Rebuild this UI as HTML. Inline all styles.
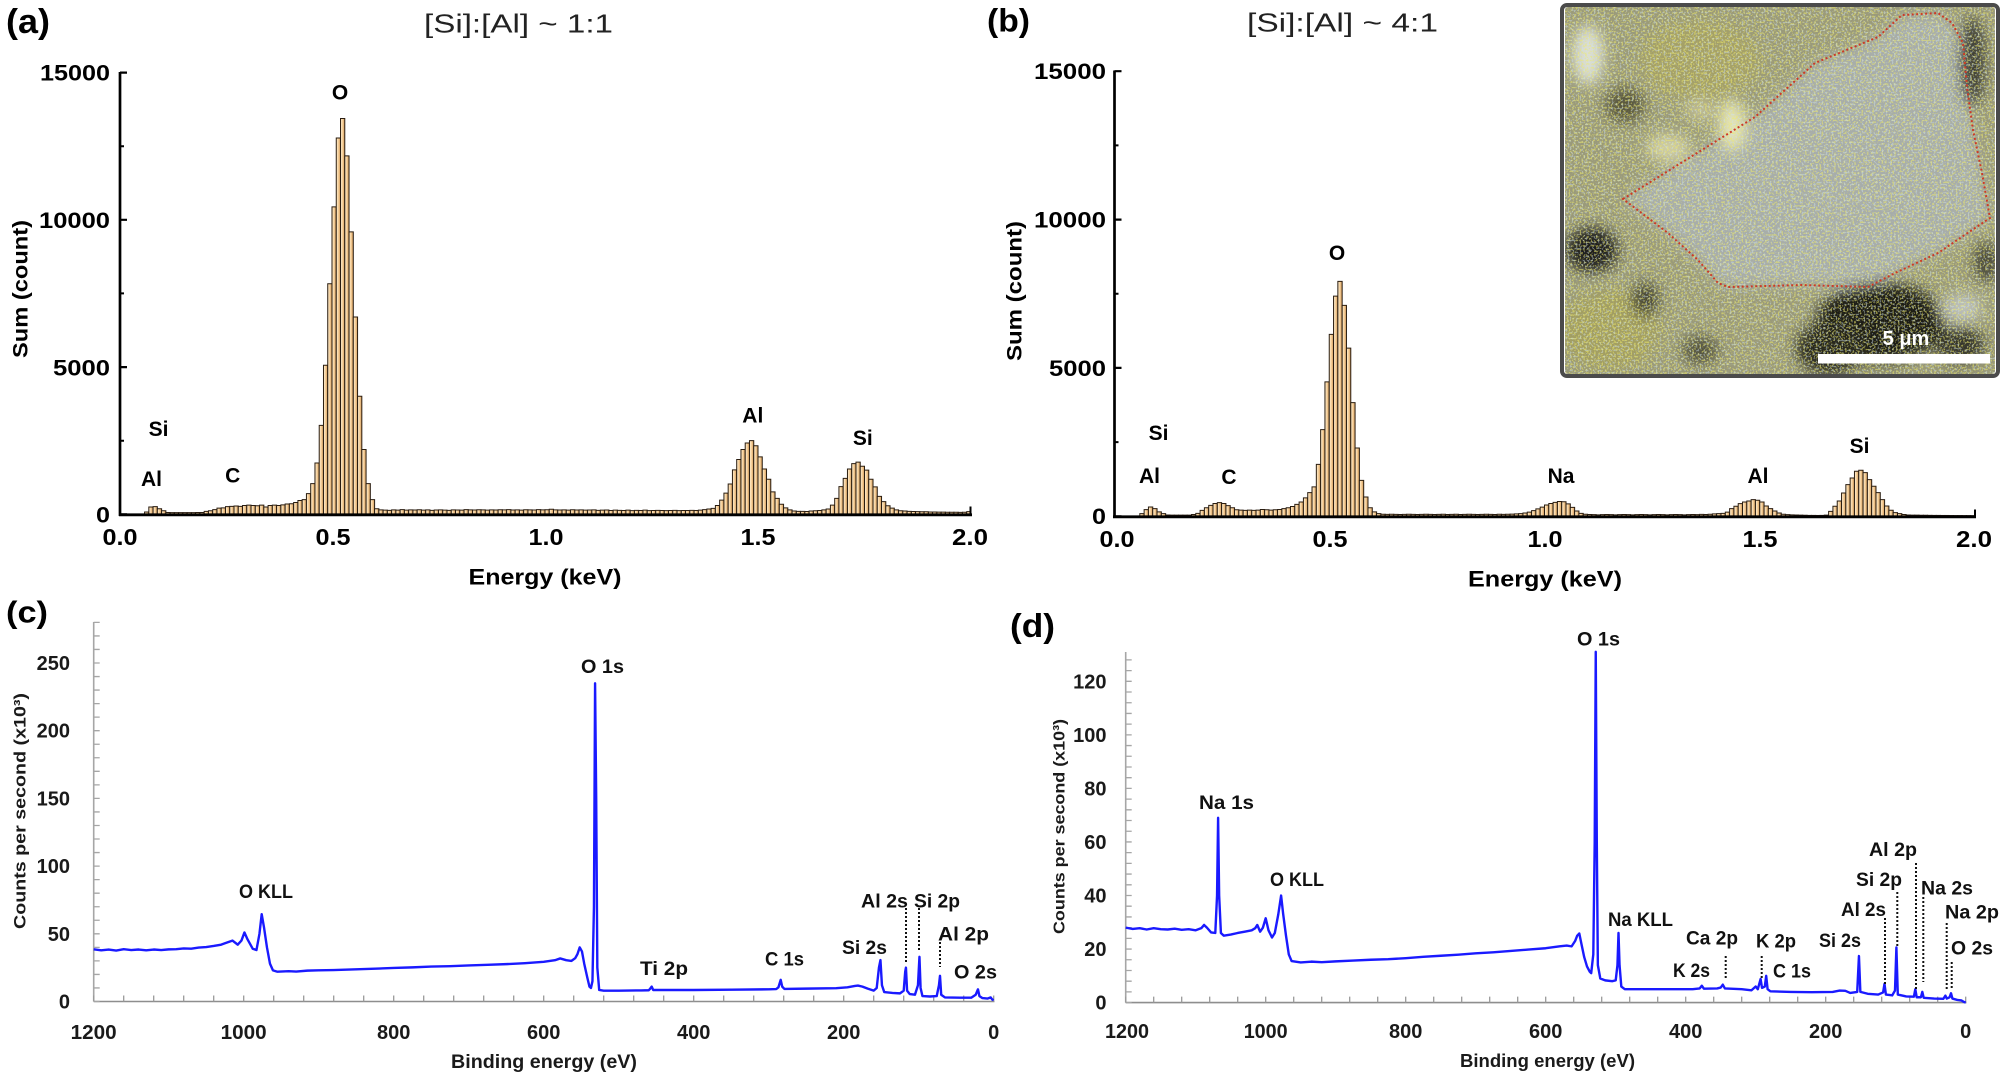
<!DOCTYPE html>
<html><head><meta charset="utf-8"><style>
html,body{margin:0;padding:0;background:#fff;}
svg{display:block;}
.bars rect{vector-effect:non-scaling-stroke;}
</style></head><body>
<svg width="2008" height="1084" viewBox="0 0 2008 1084" xmlns="http://www.w3.org/2000/svg" font-family="'Liberation Sans', Arial, sans-serif">
<defs>
<linearGradient id="bg" x1="0" x2="1" y1="0" y2="0"><stop offset="0" stop-color="#fff2d8"/><stop offset="0.5" stop-color="#f6cf98"/><stop offset="1" stop-color="#cf9758"/></linearGradient>
<clipPath id="ic"><rect x="1565" y="7" width="430" height="367" rx="3"/></clipPath>
<filter id="bl" x="-20%" y="-20%" width="140%" height="140%"><feGaussianBlur stdDeviation="7"/></filter>
<filter id="ny" x="0" y="0" width="1" height="1"><feTurbulence type="fractalNoise" baseFrequency="0.55" numOctaves="1" seed="7"/><feColorMatrix type="matrix" values="0 0 0 0 0.86 0 0 0 0 0.83 0 0 0 0 0.15 0 0 0 9 -4.7"/></filter>
<filter id="nb" x="0" y="0" width="1" height="1"><feTurbulence type="fractalNoise" baseFrequency="0.5" numOctaves="1" seed="23"/><feColorMatrix type="matrix" values="0 0 0 0 0.62 0 0 0 0 0.76 0 0 0 0 0.82 0 0 0 9 -4.9"/></filter>
</defs>

<!-- ===== Panel (a) ===== -->
<text x="6" y="33" font-size="34" font-weight="bold" textLength="44" lengthAdjust="spacingAndGlyphs">(a)</text>
<text x="424" y="32.5" font-size="26" fill="#222" textLength="189" lengthAdjust="spacingAndGlyphs">[Si]:[Al] ~ 1:1</text>
<g class="bars" transform="translate(119,514.3) scale(4.26,-0.029447)" fill="url(#bg)" stroke="#2a1d10" stroke-width="1">
<rect x="6" width="1" height="80"/><rect x="7" width="1" height="250"/><rect x="8" width="1" height="260"/><rect x="9" width="1" height="190"/><rect x="10" width="1" height="120"/><rect x="11" width="1" height="60"/><rect x="12" width="1" height="55"/><rect x="13" width="1" height="55"/><rect x="14" width="1" height="55"/><rect x="15" width="1" height="55"/><rect x="16" width="1" height="55"/><rect x="17" width="1" height="55"/><rect x="18" width="1" height="60"/><rect x="19" width="1" height="60"/><rect x="20" width="1" height="100"/><rect x="21" width="1" height="120"/><rect x="22" width="1" height="160"/><rect x="23" width="1" height="210"/><rect x="24" width="1" height="220"/><rect x="25" width="1" height="260"/><rect x="26" width="1" height="270"/><rect x="27" width="1" height="280"/><rect x="28" width="1" height="270"/><rect x="29" width="1" height="300"/><rect x="30" width="1" height="310"/><rect x="31" width="1" height="300"/><rect x="32" width="1" height="290"/><rect x="33" width="1" height="310"/><rect x="34" width="1" height="250"/><rect x="35" width="1" height="300"/><rect x="36" width="1" height="310"/><rect x="37" width="1" height="300"/><rect x="38" width="1" height="320"/><rect x="39" width="1" height="350"/><rect x="40" width="1" height="360"/><rect x="41" width="1" height="400"/><rect x="42" width="1" height="470"/><rect x="43" width="1" height="500"/><rect x="44" width="1" height="700"/><rect x="45" width="1" height="1040"/><rect x="46" width="1" height="1740"/><rect x="47" width="1" height="3020"/><rect x="48" width="1" height="5060"/><rect x="49" width="1" height="7830"/><rect x="50" width="1" height="10440"/><rect x="51" width="1" height="12780"/><rect x="52" width="1" height="13440"/><rect x="53" width="1" height="12170"/><rect x="54" width="1" height="9590"/><rect x="55" width="1" height="6700"/><rect x="56" width="1" height="4010"/><rect x="57" width="1" height="2200"/><rect x="58" width="1" height="1040"/><rect x="59" width="1" height="500"/><rect x="60" width="1" height="190"/>
<rect x="61" width="1" height="150"/><rect x="62" width="1" height="140"/><rect x="63" width="1" height="135"/><rect x="64" width="1" height="150"/><rect x="65" width="1" height="140"/><rect x="66" width="1" height="160"/><rect x="67" width="1" height="140"/><rect x="68" width="1" height="150"/><rect x="69" width="1" height="145"/><rect x="70" width="1" height="155"/><rect x="71" width="1" height="140"/><rect x="72" width="1" height="150"/><rect x="73" width="1" height="135"/><rect x="74" width="1" height="145"/><rect x="75" width="1" height="150"/><rect x="76" width="1" height="140"/><rect x="77" width="1" height="135"/><rect x="78" width="1" height="150"/><rect x="79" width="1" height="145"/><rect x="80" width="1" height="140"/><rect x="81" width="1" height="160"/><rect x="82" width="1" height="150"/><rect x="83" width="1" height="145"/><rect x="84" width="1" height="155"/><rect x="85" width="1" height="150"/><rect x="86" width="1" height="140"/><rect x="87" width="1" height="150"/><rect x="88" width="1" height="145"/><rect x="89" width="1" height="155"/><rect x="90" width="1" height="150"/><rect x="91" width="1" height="160"/><rect x="92" width="1" height="145"/><rect x="93" width="1" height="150"/><rect x="94" width="1" height="140"/><rect x="95" width="1" height="155"/><rect x="96" width="1" height="150"/><rect x="97" width="1" height="145"/><rect x="98" width="1" height="160"/><rect x="99" width="1" height="150"/><rect x="100" width="1" height="155"/><rect x="101" width="1" height="170"/><rect x="102" width="1" height="150"/><rect x="103" width="1" height="145"/><rect x="104" width="1" height="150"/><rect x="105" width="1" height="140"/><rect x="106" width="1" height="155"/><rect x="107" width="1" height="145"/><rect x="108" width="1" height="150"/><rect x="109" width="1" height="140"/><rect x="110" width="1" height="145"/><rect x="111" width="1" height="150"/><rect x="112" width="1" height="135"/><rect x="113" width="1" height="140"/><rect x="114" width="1" height="145"/><rect x="115" width="1" height="130"/><rect x="116" width="1" height="140"/><rect x="117" width="1" height="135"/><rect x="118" width="1" height="130"/><rect x="119" width="1" height="140"/><rect x="120" width="1" height="125"/><rect x="121" width="1" height="135"/><rect x="122" width="1" height="130"/><rect x="123" width="1" height="140"/><rect x="124" width="1" height="125"/><rect x="125" width="1" height="130"/><rect x="126" width="1" height="135"/><rect x="127" width="1" height="130"/><rect x="128" width="1" height="125"/><rect x="129" width="1" height="130"/><rect x="130" width="1" height="135"/><rect x="131" width="1" height="125"/><rect x="132" width="1" height="130"/><rect x="133" width="1" height="130"/><rect x="134" width="1" height="135"/><rect x="135" width="1" height="130"/><rect x="136" width="1" height="140"/><rect x="137" width="1" height="160"/><rect x="138" width="1" height="180"/><rect x="139" width="1" height="200"/>
<rect x="140" width="1" height="300"/><rect x="141" width="1" height="480"/><rect x="142" width="1" height="720"/><rect x="143" width="1" height="1030"/><rect x="144" width="1" height="1510"/><rect x="145" width="1" height="1860"/><rect x="146" width="1" height="2200"/><rect x="147" width="1" height="2420"/><rect x="148" width="1" height="2500"/><rect x="149" width="1" height="2330"/><rect x="150" width="1" height="1950"/><rect x="151" width="1" height="1540"/><rect x="152" width="1" height="1190"/><rect x="153" width="1" height="760"/><rect x="154" width="1" height="540"/><rect x="155" width="1" height="340"/><rect x="156" width="1" height="220"/><rect x="157" width="1" height="150"/><rect x="158" width="1" height="110"/><rect x="159" width="1" height="100"/><rect x="160" width="1" height="100"/><rect x="161" width="1" height="95"/><rect x="162" width="1" height="110"/><rect x="163" width="1" height="120"/><rect x="164" width="1" height="130"/><rect x="165" width="1" height="150"/><rect x="166" width="1" height="180"/><rect x="167" width="1" height="310"/><rect x="168" width="1" height="540"/><rect x="169" width="1" height="940"/><rect x="170" width="1" height="1220"/><rect x="171" width="1" height="1540"/><rect x="172" width="1" height="1720"/><rect x="173" width="1" height="1770"/><rect x="174" width="1" height="1630"/><rect x="175" width="1" height="1500"/><rect x="176" width="1" height="1190"/><rect x="177" width="1" height="930"/><rect x="178" width="1" height="610"/><rect x="179" width="1" height="430"/><rect x="180" width="1" height="290"/><rect x="181" width="1" height="210"/><rect x="182" width="1" height="150"/><rect x="183" width="1" height="120"/><rect x="184" width="1" height="110"/><rect x="185" width="1" height="100"/><rect x="186" width="1" height="95"/><rect x="187" width="1" height="90"/><rect x="188" width="1" height="85"/><rect x="189" width="1" height="85"/><rect x="190" width="1" height="80"/><rect x="191" width="1" height="80"/><rect x="192" width="1" height="75"/><rect x="193" width="1" height="75"/><rect x="194" width="1" height="70"/><rect x="195" width="1" height="70"/><rect x="196" width="1" height="70"/><rect x="197" width="1" height="65"/><rect x="198" width="1" height="70"/><rect x="199" width="1" height="90"/>
</g>
<g stroke="#000" fill="none">
<line x1="120" y1="72" x2="120" y2="516" stroke-width="2.7"/>
<line x1="119" y1="514.8" x2="972" y2="514.8" stroke-width="2.8"/>
<line x1="970.5" y1="506.5" x2="970.5" y2="515" stroke-width="2"/>
<path d="M120,72.6h7M120,219.8h7M120,367.1h7M120,514.3h7" stroke-width="2.2"/>
<path d="M120,146.2h4M120,293.4h4M120,440.7h4" stroke-width="2"/>
</g>
<g font-size="22" font-weight="bold" text-anchor="end">
<text x="110" y="80.5" textLength="70" lengthAdjust="spacingAndGlyphs">15000</text>
<text x="110" y="228" textLength="71" lengthAdjust="spacingAndGlyphs">10000</text>
<text x="110" y="375.5" textLength="57" lengthAdjust="spacingAndGlyphs">5000</text>
<text x="110" y="522.5" textLength="14" lengthAdjust="spacingAndGlyphs">0</text>
</g>
<g font-size="23" font-weight="bold" text-anchor="middle">
<text x="120" y="545" textLength="35" lengthAdjust="spacingAndGlyphs">0.0</text>
<text x="333" y="545" textLength="35" lengthAdjust="spacingAndGlyphs">0.5</text>
<text x="546" y="545" textLength="35" lengthAdjust="spacingAndGlyphs">1.0</text>
<text x="758" y="545" textLength="35" lengthAdjust="spacingAndGlyphs">1.5</text>
<text x="970" y="545" textLength="36" lengthAdjust="spacingAndGlyphs">2.0</text>
</g>
<text x="545" y="584.5" font-size="22" font-weight="bold" text-anchor="middle" textLength="153" lengthAdjust="spacingAndGlyphs">Energy (keV)</text>
<text transform="translate(27.3,289) rotate(-90)" font-size="21" font-weight="bold" text-anchor="middle" textLength="138" lengthAdjust="spacingAndGlyphs">Sum (count)</text>
<g font-size="21" font-weight="bold" text-anchor="middle">
<text x="340" y="99.3">O</text>
<text x="158.5" y="436">Si</text>
<text x="151.5" y="486">Al</text>
<text x="232.7" y="482.7">C</text>
<text x="752.8" y="422.7">Al</text>
<text x="862.8" y="445">Si</text>
</g>

<!-- ===== Panel (b) ===== -->
<text x="987" y="31.5" font-size="32" font-weight="bold" textLength="43" lengthAdjust="spacingAndGlyphs">(b)</text>
<text x="1247" y="31.5" font-size="26" fill="#222" textLength="191" lengthAdjust="spacingAndGlyphs">[Si]:[Al] ~ 4:1</text>
<g class="bars" transform="translate(1114,516.3) scale(4.305,-0.02967)" fill="url(#bg)" stroke="#2a1d10" stroke-width="1">
<rect x="6" width="1" height="90"/><rect x="7" width="1" height="225"/><rect x="8" width="1" height="315"/><rect x="9" width="1" height="260"/><rect x="10" width="1" height="150"/><rect x="11" width="1" height="90"/><rect x="12" width="1" height="45"/><rect x="13" width="1" height="40"/><rect x="14" width="1" height="40"/><rect x="15" width="1" height="40"/><rect x="16" width="1" height="40"/><rect x="17" width="1" height="40"/><rect x="18" width="1" height="60"/><rect x="19" width="1" height="100"/><rect x="20" width="1" height="200"/><rect x="21" width="1" height="290"/><rect x="22" width="1" height="370"/><rect x="23" width="1" height="430"/><rect x="24" width="1" height="460"/><rect x="25" width="1" height="430"/><rect x="26" width="1" height="360"/><rect x="27" width="1" height="290"/><rect x="28" width="1" height="220"/><rect x="29" width="1" height="210"/><rect x="30" width="1" height="200"/><rect x="31" width="1" height="210"/><rect x="32" width="1" height="200"/><rect x="33" width="1" height="210"/><rect x="34" width="1" height="230"/><rect x="35" width="1" height="220"/><rect x="36" width="1" height="210"/><rect x="37" width="1" height="220"/><rect x="38" width="1" height="230"/><rect x="39" width="1" height="260"/><rect x="40" width="1" height="290"/><rect x="41" width="1" height="330"/><rect x="42" width="1" height="400"/><rect x="43" width="1" height="480"/><rect x="44" width="1" height="620"/><rect x="45" width="1" height="800"/><rect x="46" width="1" height="990"/><rect x="47" width="1" height="1750"/><rect x="48" width="1" height="2920"/><rect x="49" width="1" height="4530"/><rect x="50" width="1" height="6130"/><rect x="51" width="1" height="7420"/><rect x="52" width="1" height="7920"/><rect x="53" width="1" height="7110"/><rect x="54" width="1" height="5670"/><rect x="55" width="1" height="3830"/><rect x="56" width="1" height="2300"/><rect x="57" width="1" height="1210"/><rect x="58" width="1" height="650"/><rect x="59" width="1" height="290"/><rect x="60" width="1" height="150"/><rect x="61" width="1" height="90"/>
<rect x="62" width="1" height="70"/><rect x="63" width="1" height="65"/><rect x="64" width="1" height="70"/><rect x="65" width="1" height="65"/><rect x="66" width="1" height="60"/><rect x="67" width="1" height="65"/><rect x="68" width="1" height="70"/><rect x="69" width="1" height="65"/><rect x="70" width="1" height="60"/><rect x="71" width="1" height="65"/><rect x="72" width="1" height="70"/><rect x="73" width="1" height="65"/><rect x="74" width="1" height="60"/><rect x="75" width="1" height="65"/><rect x="76" width="1" height="70"/><rect x="77" width="1" height="60"/><rect x="78" width="1" height="65"/><rect x="79" width="1" height="70"/><rect x="80" width="1" height="60"/><rect x="81" width="1" height="65"/><rect x="82" width="1" height="70"/><rect x="83" width="1" height="65"/><rect x="84" width="1" height="60"/><rect x="85" width="1" height="65"/><rect x="86" width="1" height="70"/><rect x="87" width="1" height="65"/><rect x="88" width="1" height="60"/><rect x="89" width="1" height="70"/><rect x="90" width="1" height="65"/><rect x="91" width="1" height="70"/><rect x="92" width="1" height="75"/><rect x="93" width="1" height="80"/><rect x="94" width="1" height="90"/>
<rect x="95" width="1" height="110"/><rect x="96" width="1" height="140"/><rect x="97" width="1" height="190"/><rect x="98" width="1" height="250"/><rect x="99" width="1" height="310"/><rect x="100" width="1" height="380"/><rect x="101" width="1" height="430"/><rect x="102" width="1" height="470"/><rect x="103" width="1" height="500"/><rect x="104" width="1" height="490"/><rect x="105" width="1" height="420"/><rect x="106" width="1" height="300"/><rect x="107" width="1" height="180"/><rect x="108" width="1" height="100"/><rect x="109" width="1" height="70"/>
<rect x="110" width="1" height="60"/><rect x="111" width="1" height="55"/><rect x="112" width="1" height="50"/><rect x="113" width="1" height="55"/><rect x="114" width="1" height="60"/><rect x="115" width="1" height="55"/><rect x="116" width="1" height="50"/><rect x="117" width="1" height="55"/><rect x="118" width="1" height="60"/><rect x="119" width="1" height="55"/><rect x="120" width="1" height="50"/><rect x="121" width="1" height="55"/><rect x="122" width="1" height="60"/><rect x="123" width="1" height="55"/><rect x="124" width="1" height="50"/><rect x="125" width="1" height="55"/><rect x="126" width="1" height="60"/><rect x="127" width="1" height="55"/><rect x="128" width="1" height="50"/><rect x="129" width="1" height="55"/><rect x="130" width="1" height="60"/><rect x="131" width="1" height="55"/><rect x="132" width="1" height="50"/><rect x="133" width="1" height="55"/><rect x="134" width="1" height="60"/><rect x="135" width="1" height="55"/><rect x="136" width="1" height="65"/><rect x="137" width="1" height="60"/><rect x="138" width="1" height="70"/><rect x="139" width="1" height="80"/><rect x="140" width="1" height="90"/><rect x="141" width="1" height="100"/>
<rect x="142" width="1" height="140"/><rect x="143" width="1" height="258"/><rect x="144" width="1" height="340"/><rect x="145" width="1" height="427"/><rect x="146" width="1" height="482"/><rect x="147" width="1" height="517"/><rect x="148" width="1" height="562"/><rect x="149" width="1" height="539"/><rect x="150" width="1" height="482"/><rect x="151" width="1" height="348"/><rect x="152" width="1" height="258"/><rect x="153" width="1" height="180"/><rect x="154" width="1" height="112"/><rect x="155" width="1" height="70"/><rect x="156" width="1" height="56"/><rect x="157" width="1" height="50"/><rect x="158" width="1" height="45"/><rect x="159" width="1" height="40"/><rect x="160" width="1" height="35"/><rect x="161" width="1" height="30"/><rect x="162" width="1" height="30"/><rect x="163" width="1" height="28"/><rect x="164" width="1" height="30"/><rect x="165" width="1" height="40"/><rect x="166" width="1" height="168"/><rect x="167" width="1" height="337"/><rect x="168" width="1" height="517"/><rect x="169" width="1" height="787"/><rect x="170" width="1" height="1067"/><rect x="171" width="1" height="1292"/><rect x="172" width="1" height="1517"/><rect x="173" width="1" height="1550"/><rect x="174" width="1" height="1472"/><rect x="175" width="1" height="1236"/><rect x="176" width="1" height="1011"/><rect x="177" width="1" height="798"/><rect x="178" width="1" height="562"/><rect x="179" width="1" height="348"/><rect x="180" width="1" height="202"/><rect x="181" width="1" height="125"/><rect x="182" width="1" height="90"/><rect x="183" width="1" height="60"/><rect x="184" width="1" height="45"/><rect x="185" width="1" height="40"/><rect x="186" width="1" height="38"/><rect x="187" width="1" height="35"/><rect x="188" width="1" height="34"/><rect x="189" width="1" height="32"/><rect x="190" width="1" height="30"/><rect x="191" width="1" height="30"/><rect x="192" width="1" height="28"/><rect x="193" width="1" height="28"/><rect x="194" width="1" height="26"/><rect x="195" width="1" height="25"/><rect x="196" width="1" height="25"/><rect x="197" width="1" height="24"/><rect x="198" width="1" height="24"/><rect x="199" width="1" height="22"/>
</g>
<g stroke="#000" fill="none">
<line x1="1114.5" y1="70.5" x2="1114.5" y2="518" stroke-width="2.7"/>
<line x1="1113" y1="516.8" x2="1976" y2="516.8" stroke-width="2.8"/>
<line x1="1975" y1="509.5" x2="1975" y2="517" stroke-width="2"/>
<path d="M1114.5,71.2h7M1114.5,219.6h7M1114.5,367.9h7M1114.5,516.3h7" stroke-width="2.2"/>
<path d="M1114.5,145.4h4M1114.5,293.8h4M1114.5,442.1h4" stroke-width="2"/>
</g>
<g font-size="22" font-weight="bold" text-anchor="end">
<text x="1106" y="79" textLength="72" lengthAdjust="spacingAndGlyphs">15000</text>
<text x="1106" y="227.5" textLength="72" lengthAdjust="spacingAndGlyphs">10000</text>
<text x="1106" y="376" textLength="57" lengthAdjust="spacingAndGlyphs">5000</text>
<text x="1106" y="524" textLength="14" lengthAdjust="spacingAndGlyphs">0</text>
</g>
<g font-size="23" font-weight="bold" text-anchor="middle">
<text x="1117" y="547" textLength="35" lengthAdjust="spacingAndGlyphs">0.0</text>
<text x="1330" y="547" textLength="35" lengthAdjust="spacingAndGlyphs">0.5</text>
<text x="1545" y="547" textLength="35" lengthAdjust="spacingAndGlyphs">1.0</text>
<text x="1760" y="547" textLength="35" lengthAdjust="spacingAndGlyphs">1.5</text>
<text x="1974" y="547" textLength="36" lengthAdjust="spacingAndGlyphs">2.0</text>
</g>
<text x="1545" y="586.5" font-size="22" font-weight="bold" text-anchor="middle" textLength="154" lengthAdjust="spacingAndGlyphs">Energy (keV)</text>
<text transform="translate(1021.6,291) rotate(-90)" font-size="21" font-weight="bold" text-anchor="middle" textLength="140" lengthAdjust="spacingAndGlyphs">Sum (count)</text>
<g font-size="21" font-weight="bold" text-anchor="middle">
<text x="1337" y="260">O</text>
<text x="1158.5" y="440">Si</text>
<text x="1149.5" y="483">Al</text>
<text x="1229" y="484">C</text>
<text x="1561" y="483">Na</text>
<text x="1758" y="483">Al</text>
<text x="1859.5" y="453">Si</text>
</g>

<!-- Inset image -->
<g clip-path="url(#ic)">
<rect x="1565" y="7" width="430" height="367" fill="#9a9a7a"/>
<g filter="url(#bl)">
<polygon points="1623,199 1755,117 1815,63 1878,37 1902,15 1938,13 1952,23 1963,43 1967,87 1973,130 1982,173 1990,218 1972,230 1938,253 1895,273 1868,287 1802,285 1728,287 1718,283 1698,260 1668,233" fill="#a7adaa"/>
<ellipse cx="1610" cy="330" rx="50" ry="40" fill="#a29e62"/>
<ellipse cx="1700" cy="60" rx="60" ry="40" fill="#a4a068"/>
<ellipse cx="1592" cy="250" rx="26" ry="22" fill="#1e1e1a"/>
<ellipse cx="1880" cy="322" rx="64" ry="40" fill="#1a1a16"/>
<ellipse cx="1830" cy="348" rx="34" ry="26" fill="#26261e"/>
<ellipse cx="1960" cy="345" rx="25" ry="18" fill="#34342a"/>
<ellipse cx="1972" cy="62" rx="13" ry="45" fill="#3a3a30"/>
<ellipse cx="1645" cy="300" rx="14" ry="18" fill="#444436"/>
<ellipse cx="1625" cy="105" rx="20" ry="18" fill="#58563e"/>
<ellipse cx="1986" cy="262" rx="12" ry="20" fill="#444438"/>
<ellipse cx="1700" cy="350" rx="18" ry="14" fill="#50503c"/>
<ellipse cx="1588" cy="55" rx="16" ry="30" fill="#dcdfd4"/>
<ellipse cx="1732" cy="125" rx="14" ry="25" fill="#e4e4b8"/>
<ellipse cx="1668" cy="148" rx="22" ry="14" fill="#cfcda4"/>
<ellipse cx="1700" cy="110" rx="15" ry="10" fill="#c2c098"/>
<ellipse cx="1962" cy="308" rx="20" ry="14" fill="#bcc0bc"/>
</g>
<rect x="1565" y="7" width="430" height="367" filter="url(#ny)" opacity="0.55"/>
<rect x="1565" y="7" width="430" height="367" filter="url(#nb)" opacity="0.45"/>
<polygon points="1623,199 1755,117 1815,63 1878,37 1902,15 1938,13 1952,23 1963,43 1967,87 1973,130 1982,173 1990,218 1972,230 1938,253 1895,273 1868,287 1802,285 1728,287 1718,283 1698,260 1668,233" fill="none" stroke="#cc3a26" stroke-width="2" stroke-dasharray="2 2.5"/>
<rect x="1818" y="354" width="172" height="9.5" fill="#fff"/>
<text x="1906" y="345" font-size="20" font-weight="bold" fill="#fff" text-anchor="middle">5 μm</text>
</g>
<rect x="1562" y="5" width="436" height="371" rx="5" fill="none" stroke="#4b4b4b" stroke-width="4"/>

<!-- ===== Panel (c) ===== -->
<text x="6" y="622.5" font-size="31" font-weight="bold" textLength="42" lengthAdjust="spacingAndGlyphs">(c)</text>
<line x1="93.7" y1="622" x2="93.7" y2="1001.5" stroke="#a6a6a6" stroke-width="1.6"/>
<line x1="93.7" y1="1001.5" x2="994.5" y2="1001.5" stroke="#8e8e8e" stroke-width="1.6"/>
<line x1="96.7" y1="1002.15" x2="96.7" y2="621" stroke="#a6a6a6" stroke-width="6" stroke-dasharray="1.3 12.24"/>
<line x1="93.05" y1="998.5" x2="995" y2="998.5" stroke="#9a9a9a" stroke-width="6" stroke-dasharray="1.3 28.7"/>
<polyline transform="translate(993.7,1001.5) scale(-0.75,-1.354)" vector-effect="non-scaling-stroke" fill="none" stroke="#1a1aff" stroke-width="2.4" stroke-linejoin="round" points="1200,38.5 1190,37.8 1180,38.4 1170,37.6 1160,38.6 1150,38 1140,38.4 1130,37.8 1120,38.4 1110,38 1100,38.5 1090,38.6 1080,39.2 1070,39 1060,39.8 1050,40.2 1040,41 1030,42 1025,43 1015,45 1008,42 1003,45 999,51 995,46 988,39 983,38 979,50 976,64.5 973,55 969,40 965,28 961,23 955,22 940,22.4 930,22.1 915,22.8 900,23 880,23.2 850,23.8 825,24.2 800,24.8 775,25.2 750,25.8 725,26.1 700,26.6 675,27.1 650,27.6 625,28.3 600,29.3 585,30.5 578,31.8 570,30.5 563,30 558,32 555,35 552,40 549,37 546,28 542,18 539,11 537,10 535,15 533,70 531.5,235 530,150 528.5,25 526,8.5 520,8 500,8 470,8.2 460,8.3 458,9.5 456,11 454,8.5 440,8.5 400,8.5 350,8.7 300,9 290,9.2 287,10.5 284,16 282,11 279,9.3 250,9.5 210,9.8 195,10.5 185,11.5 181,11.8 175,11 168,9.5 160,8 156,10 153,25 151,30.6 149,12 146,7 135,6.3 125,6 120,8 118,22 117,25 115.5,8 112,5.5 105,5 101,12 99,33 97.5,10 95,4 85,3.7 76,4 73,12 71.6,19 70,5 65,3 45,2.8 30,2.8 24,5 21,9 19,4 15,2.5 8,2.2 4,3 2,1.5 0,1"/>
<g stroke="#111" stroke-width="2" stroke-dasharray="2 2">
<line x1="906" y1="908" x2="906" y2="962"/>
<line x1="919" y1="908" x2="919" y2="950"/>
<line x1="940" y1="942" x2="940" y2="967"/>
</g>
<g font-size="20" font-weight="bold" fill="#1a1a1a" text-anchor="end">
<text x="70" y="1008.5">0</text>
<text x="70" y="940.8">50</text>
<text x="70" y="873">100</text>
<text x="70" y="805.4">150</text>
<text x="70" y="737.7">200</text>
<text x="70" y="670">250</text>
</g>
<g font-size="20" font-weight="bold" fill="#1a1a1a" text-anchor="middle">
<text x="93.7" y="1039" textLength="46" lengthAdjust="spacingAndGlyphs">1200</text>
<text x="243.7" y="1039" textLength="46" lengthAdjust="spacingAndGlyphs">1000</text>
<text x="393.7" y="1039">800</text>
<text x="543.7" y="1039">600</text>
<text x="693.7" y="1039">400</text>
<text x="843.7" y="1039">200</text>
<text x="993.7" y="1039">0</text>
</g>
<text x="544" y="1068" font-size="19" font-weight="bold" fill="#1a1a1a" text-anchor="middle" textLength="186" lengthAdjust="spacingAndGlyphs">Binding energy (eV)</text>
<text transform="translate(25.4,811) rotate(-90)" font-size="17" font-weight="bold" fill="#1a1a1a" text-anchor="middle" textLength="236" lengthAdjust="spacingAndGlyphs">Counts per second (x10³)</text>
<g font-size="19" font-weight="bold" fill="#111">
<text x="581" y="673" textLength="43" lengthAdjust="spacingAndGlyphs">O 1s</text>
<text x="239" y="898" textLength="54" lengthAdjust="spacingAndGlyphs">O KLL</text>
<text x="640" y="975" textLength="48" lengthAdjust="spacingAndGlyphs">Ti 2p</text>
<text x="765" y="965.5" textLength="39" lengthAdjust="spacingAndGlyphs">C 1s</text>
<text x="842" y="954" textLength="45" lengthAdjust="spacingAndGlyphs">Si 2s</text>
<text x="861" y="907.5" textLength="47" lengthAdjust="spacingAndGlyphs">Al 2s</text>
<text x="914" y="907.5" textLength="46" lengthAdjust="spacingAndGlyphs">Si 2p</text>
<text x="938" y="940.5" textLength="51" lengthAdjust="spacingAndGlyphs">Al 2p</text>
<text x="954" y="978.5" textLength="43" lengthAdjust="spacingAndGlyphs">O 2s</text>
</g>

<!-- ===== Panel (d) ===== -->
<text x="1010" y="637" font-size="33" font-weight="bold" textLength="45" lengthAdjust="spacingAndGlyphs">(d)</text>
<line x1="1125.7" y1="652" x2="1125.7" y2="1002.6" stroke="#a6a6a6" stroke-width="1.6"/>
<line x1="1125.7" y1="1002.6" x2="1966.5" y2="1002.6" stroke="#8e8e8e" stroke-width="1.6"/>
<line x1="1128.7" y1="1003.25" x2="1128.7" y2="652" stroke="#a6a6a6" stroke-width="6" stroke-dasharray="1.3 9.41"/>
<line x1="1125.05" y1="999.6" x2="1967" y2="999.6" stroke="#9a9a9a" stroke-width="6" stroke-dasharray="1.3 26.7"/>
<polyline transform="translate(1965.7,1002.6) scale(-0.7,-2.6775)" vector-effect="non-scaling-stroke" fill="none" stroke="#1a1aff" stroke-width="2.4" stroke-linejoin="round" points="1200,28 1190,27.5 1180,27.8 1170,27.3 1160,27.8 1150,27.4 1140,27.3 1130,27.6 1120,27.2 1110,27.4 1100,27 1092,27.8 1088,29 1084,28 1078,26.2 1072,26 1069.5,40 1068,69 1066.5,40 1064,26 1060,25 1050,25.4 1040,26 1030,26.5 1020,27 1015,27.8 1012,29 1008,26.5 1004,28 1000,31.5 996,27 991,24.3 987,26 982,33 978,40 975,33 971,25 967,18 963,15.5 950,15 935,15.3 920,15.1 900,15.4 875,15.7 850,16 825,16.2 800,16.6 775,17.1 750,17.5 725,17.9 700,18.4 675,18.8 650,19.3 625,19.8 600,20.3 580,21 570,21.3 563,21 558,23 555,25 552,25.8 549,22 545,17 541,13.5 537,11.5 535,11 532,18 530,60 528.5,131 527,60 525.5,14 522,9 515,8.3 505,8 500,8.3 497.5,14 496,26 494.5,14 492,6 487,5 460,5 420,5 390,5 380,5.3 377,6.3 374,5.2 355,5.3 350,5.6 347,6.7 344,5.3 320,5 306,4.6 300,6 297,5 293,8.8 291,5.5 287,6 285,10 283,5 279,4.2 250,4 220,3.9 190,4 180,4.5 172,4.4 165,3.6 155,4 152.5,17.4 150.5,4 140,3.3 125,3 118,3.8 116,7 114,3 105,2.7 101,4.5 99,20.6 97,3 85,2.3 74,2.2 72,5 70,2 64,2 62,4 60,1.8 45,1.5 32,1.4 29,2.6 27,1.5 23,2 21,3.5 19,1.5 12,1 6,0.8 3,0.3 0,0"/>
<g stroke="#111" stroke-width="2" stroke-dasharray="2 2">
<line x1="1725.7" y1="956" x2="1725.7" y2="980"/>
<line x1="1761.7" y1="956" x2="1761.7" y2="979"/>
<line x1="1885" y1="918" x2="1885" y2="984"/>
<line x1="1897.3" y1="892" x2="1897.3" y2="947"/>
<line x1="1916" y1="863" x2="1916" y2="989"/>
<line x1="1923.3" y1="897" x2="1923.3" y2="982"/>
<line x1="1946.7" y1="923" x2="1946.7" y2="989"/>
<line x1="1951.7" y1="962" x2="1951.7" y2="989"/>
</g>
<g font-size="20" font-weight="bold" fill="#1a1a1a" text-anchor="end">
<text x="1106.5" y="1009.6">0</text>
<text x="1106.5" y="956.1">20</text>
<text x="1106.5" y="902.5">40</text>
<text x="1106.5" y="848.9">60</text>
<text x="1106.5" y="795.4">80</text>
<text x="1106.5" y="741.9">100</text>
<text x="1106.5" y="688.3">120</text>
</g>
<g font-size="20" font-weight="bold" fill="#1a1a1a" text-anchor="middle">
<text x="1127" y="1038" textLength="44" lengthAdjust="spacingAndGlyphs">1200</text>
<text x="1265.7" y="1038" textLength="44" lengthAdjust="spacingAndGlyphs">1000</text>
<text x="1405.7" y="1038">800</text>
<text x="1545.7" y="1038">600</text>
<text x="1685.7" y="1038">400</text>
<text x="1825.7" y="1038">200</text>
<text x="1965.7" y="1038">0</text>
</g>
<text x="1547.5" y="1067" font-size="18" font-weight="bold" fill="#1a1a1a" text-anchor="middle" textLength="175" lengthAdjust="spacingAndGlyphs">Binding energy (eV)</text>
<text transform="translate(1064.5,826.5) rotate(-90)" font-size="16" font-weight="bold" fill="#1a1a1a" text-anchor="middle" textLength="215" lengthAdjust="spacingAndGlyphs">Counts per second (x10³)</text>
<g font-size="19" font-weight="bold" fill="#111">
<text x="1577" y="645.5" textLength="43" lengthAdjust="spacingAndGlyphs">O 1s</text>
<text x="1199" y="809" textLength="55" lengthAdjust="spacingAndGlyphs">Na 1s</text>
<text x="1270" y="886" textLength="54" lengthAdjust="spacingAndGlyphs">O KLL</text>
<text x="1608" y="926" textLength="65" lengthAdjust="spacingAndGlyphs">Na KLL</text>
<text x="1686" y="944.5" textLength="52" lengthAdjust="spacingAndGlyphs">Ca 2p</text>
<text x="1673" y="977" textLength="37" lengthAdjust="spacingAndGlyphs">K 2s</text>
<text x="1756" y="947.5" textLength="40" lengthAdjust="spacingAndGlyphs">K 2p</text>
<text x="1773" y="977.7" textLength="38" lengthAdjust="spacingAndGlyphs">C 1s</text>
<text x="1819" y="947" textLength="42" lengthAdjust="spacingAndGlyphs">Si 2s</text>
<text x="1841" y="916" textLength="45" lengthAdjust="spacingAndGlyphs">Al 2s</text>
<text x="1856" y="886" textLength="46" lengthAdjust="spacingAndGlyphs">Si 2p</text>
<text x="1869" y="856" textLength="48" lengthAdjust="spacingAndGlyphs">Al 2p</text>
<text x="1921" y="894.5" textLength="52" lengthAdjust="spacingAndGlyphs">Na 2s</text>
<text x="1945" y="918.5" textLength="54" lengthAdjust="spacingAndGlyphs">Na 2p</text>
<text x="1951" y="954.5" textLength="42" lengthAdjust="spacingAndGlyphs">O 2s</text>
</g>
</svg>
</body></html>
